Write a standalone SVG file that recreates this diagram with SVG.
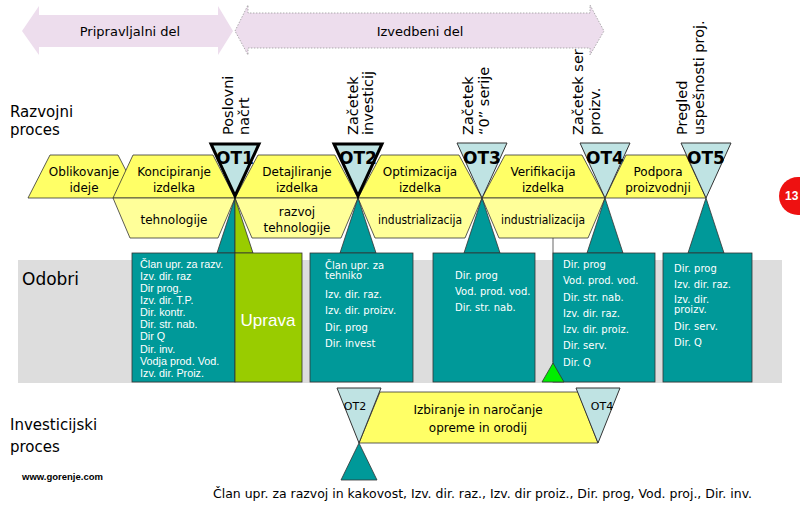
<svg xmlns="http://www.w3.org/2000/svg" width="800" height="506" viewBox="0 0 800 506">
<style>
.lbl{font-family:"DejaVu Sans",Verdana,sans-serif;fill:#000}
.rot{font-family:"DejaVu Sans",Verdana,sans-serif;font-size:14.5px;fill:#000}
.hx{font-family:"DejaVu Sans",Verdana,sans-serif;font-size:12px;fill:#000;text-anchor:middle}
.hexT{fill:#FFFF66;stroke:#333;stroke-width:0.8}
.hexB{fill:#FFFF99;stroke:#333;stroke-width:0.8}
.ot{fill:#BFE3E3;stroke:#333;stroke-width:1}
.otk{fill:#BFE3E3;stroke:#000;stroke-width:3;stroke-linejoin:miter}
.otl{font-family:"DejaVu Sans",Verdana,sans-serif;font-weight:bold;font-size:17px;fill:#000;text-anchor:middle}
.teal{fill:#009999;stroke:#333;stroke-width:0.8}
.grn{fill:#99CC00;stroke:#333;stroke-width:0.8}
.bx{font-family:"DejaVu Sans",Verdana,sans-serif;font-size:10px;fill:#fff}
.bx1{font-family:"Liberation Sans",Arial,sans-serif;font-size:10.8px;fill:#fff}
</style>
<defs>
<marker id="ah" markerWidth="8" markerHeight="8" refX="4" refY="6" orient="auto" markerUnits="userSpaceOnUse">
<path d="M0,0 L8,0 L4,7 Z" fill="#808080"/>
</marker>
</defs>
<rect width="800" height="506" fill="#fff"/>

<!-- gray band -->
<rect x="18" y="260" width="764" height="123" fill="#DDDDDD"/>

<!-- rotated labels -->
<g id="labels-top">
<text class="rot" transform="translate(233,135) rotate(-90)"><tspan x="0" y="0">Poslovni</tspan><tspan x="0" y="16">načrt</tspan></text>
<text class="rot" transform="translate(358,135) rotate(-90)"><tspan x="0" y="0">Začetek</tspan><tspan x="0" y="15">investicij</tspan></text>
<text class="rot" transform="translate(473,135) rotate(-90)"><tspan x="0" y="0">Začetek</tspan><tspan x="0" y="16">“0” serije</tspan></text>
<text class="rot" transform="translate(583,135) rotate(-90)"><tspan x="0" y="0">Začetek serij</tspan><tspan x="0" y="17">proizv.</tspan></text>
<text class="rot" transform="translate(687,135) rotate(-90)"><tspan x="0" y="0">Pregled</tspan><tspan x="0" y="17">uspešnosti proj.</tspan></text>
</g>

<!-- top arrows -->
<g id="arrow-priprav">
<polygon points="22,31 39,6 39,15 218,15 218,6 233,31 218,55 218,47 39,47 39,55" fill="#EDDDED"/>
<text class="lbl" x="130" y="36" font-size="13" text-anchor="middle" font-family="Liberation Sans,Arial,sans-serif">Pripravljalni del</text>
</g>
<g id="arrow-izved">
<polygon points="235,31 248,5 248,13 590,13 590,5 604,31 590,55 590,48 248,48 248,55" fill="#EDDDED" stroke="#999" stroke-width="0.8" stroke-dasharray="1.5,1.5"/>
<text class="lbl" x="420" y="36" font-size="13" text-anchor="middle" font-family="Liberation Sans,Arial,sans-serif">Izvedbeni del</text>
</g>

<!-- left labels -->
<text class="lbl" x="10" y="117" font-size="15">Razvojni</text>
<text class="lbl" x="10" y="135" font-size="15">proces</text>
<text class="lbl" x="22" y="285" font-size="17">Odobri</text>
<text class="lbl" x="10" y="430" font-size="15">Investicijski</text>
<text class="lbl" x="10" y="452" font-size="15">proces</text>
<text x="22" y="480" font-family="Liberation Sans,Arial,sans-serif" font-size="9.5" font-weight="bold" fill="#000">www.gorenje.com</text>

<!-- connectors -->
<g id="connectors">
<line x1="553" y1="238" x2="553" y2="362" stroke="#808080" stroke-width="1.2" marker-end="url(#ah)"/>
</g>

<!-- phase hexagons -->
<g id="oblikovanje">
<polygon class="hexT" points="28,198 50,155 118,155 140,198"/>
<text class="hx"><tspan x="84" y="176">Oblikovanje</tspan><tspan x="84" y="192">ideje</tspan></text>
</g>
<g id="koncipiranje">
<polygon class="hexT" points="113,198 133,155 213,155 235,198"/>
<polygon class="hexB" points="113,198 235,198 218,238 130,238"/>
<text class="hx"><tspan x="174" y="176">Koncipiranje</tspan><tspan x="174" y="192">izdelka</tspan></text>
<text class="hx" x="174" y="224">tehnologije</text>
</g>
<g id="detajliranje">
<polygon class="hexT" points="235,198 258,155 335,155 358,198"/>
<polygon class="hexB" points="235,198 358,198 341,238 252,238"/>
<text class="hx"><tspan x="297" y="176">Detajliranje</tspan><tspan x="297" y="192">izdelka</tspan></text>
<text class="hx"><tspan x="297" y="216">razvoj</tspan><tspan x="297" y="232">tehnologije</tspan></text>
</g>
<g id="optimizacija">
<polygon class="hexT" points="358,198 381,155 459,155 482,198"/>
<polygon class="hexB" points="358,198 482,198 465,238 375,238"/>
<text class="hx"><tspan x="420" y="176">Optimizacija</tspan><tspan x="420" y="192">izdelka</tspan></text>
<text class="hx" x="420" y="224" textLength="84" lengthAdjust="spacingAndGlyphs">industrializacija</text>
</g>
<g id="verifikacija">
<polygon class="hexT" points="482,198 505,155 582,155 605,198"/>
<polygon class="hexB" points="482,198 605,198 588,238 499,238"/>
<text class="hx"><tspan x="543" y="176">Verifikacija</tspan><tspan x="543" y="192">izdelka</tspan></text>
<text class="hx" x="543" y="224" textLength="84" lengthAdjust="spacingAndGlyphs">industrializacija</text>
</g>
<g id="podpora">
<polygon class="hexT" points="605,198 626,155 686,155 706,198"/>
<text class="hx"><tspan x="658" y="176">Podpora</tspan><tspan x="658" y="192">proizvodnji</tspan></text>
</g>

<!-- approval boxes -->
<g id="odobri-ot1">
<polygon class="teal" points="235,198 217,253 235,253"/>
<polygon class="grn" points="235,198 235,253 253,253"/>
<rect class="teal" x="132" y="253" width="103" height="129"/>
<rect class="grn" x="235" y="253" width="67" height="129"/>
<text class="bx1"><tspan x="140" y="268">Član upr. za razv.</tspan><tspan x="140" y="280">Izv. dir. raz</tspan><tspan x="140" y="292">Dir prog.</tspan><tspan x="140" y="304">Izv. dir. T.P.</tspan><tspan x="140" y="316">Dir. kontr.</tspan><tspan x="140" y="328">Dir. str. nab.</tspan><tspan x="140" y="340">Dir Q</tspan><tspan x="140" y="353">Dir. inv.</tspan><tspan x="140" y="365">Vodja prod. Vod.</tspan><tspan x="140" y="377">Izv. dir. Proiz.</tspan></text>
<text x="268" y="326" font-family="Liberation Sans,Arial,sans-serif" font-size="17" fill="#fff" text-anchor="middle">Uprava</text>
</g>
<g id="odobri-ot2">
<polygon class="teal" points="358,198 340,253 376,253"/>
<rect class="teal" x="310" y="253" width="103" height="129"/>
<text class="bx"><tspan x="325" y="269">Član upr. za</tspan><tspan x="325" y="279">tehniko</tspan><tspan x="325" y="298">Izv. dir. raz.</tspan><tspan x="325" y="314">Izv. dir. proizv.</tspan><tspan x="325" y="331">Dir. prog</tspan><tspan x="325" y="347">Dir. invest</tspan></text>
</g>
<g id="odobri-ot3">
<polygon class="teal" points="482,198 464,253 500,253"/>
<rect class="teal" x="433" y="253" width="102" height="129"/>
<text class="bx"><tspan x="455" y="279">Dir. prog</tspan><tspan x="455" y="295">Vod. prod. vod.</tspan><tspan x="455" y="311">Dir. str. nab.</tspan></text>
</g>
<g id="odobri-ot4">
<polygon class="teal" points="605,198 587,253 623,253"/>
<rect class="teal" x="553" y="253" width="102" height="129"/>
<text class="bx"><tspan x="563" y="268">Dir. prog</tspan><tspan x="563" y="284">Vod. prod. vod.</tspan><tspan x="563" y="301">Dir. str. nab.</tspan><tspan x="563" y="317">Izv. dir. raz.</tspan><tspan x="563" y="333">Izv. dir. proiz.</tspan><tspan x="563" y="349">Dir. serv.</tspan><tspan x="563" y="366">Dir. Q</tspan></text>
<polygon points="542,382 553,363 564,382" fill="#00EE00" stroke="#333" stroke-width="0.8"/>
</g>
<g id="odobri-ot5">
<polygon class="teal" points="706,198 688,253 724,253"/>
<rect class="teal" x="663" y="253" width="89" height="129"/>
<text class="bx"><tspan x="674" y="272">Dir. prog</tspan><tspan x="674" y="288">Izv. dir. raz.</tspan><tspan x="674" y="303">Izv. dir.</tspan><tspan x="674" y="313">proizv.</tspan><tspan x="674" y="330">Dir. serv.</tspan><tspan x="674" y="346">Dir. Q</tspan></text>
</g>

<!-- OT triangles -->
<g id="ot1"><polygon class="otk" points="211,144 259,144 235,196"/><text class="otl" x="235" y="164">OT1</text></g>
<g id="ot2"><polygon class="otk" points="334,144 382,144 358,196"/><text class="otl" x="358" y="164">OT2</text></g>
<g id="ot3"><polygon class="ot" points="457,143 507,143 482,198"/><text class="otl" x="482" y="164">OT3</text></g>
<g id="ot4"><polygon class="ot" points="580,143 630,143 605,198"/><text class="otl" x="605" y="164">OT4</text></g>
<g id="ot5"><polygon class="ot" points="681,143 731,143 706,198"/><text class="otl" x="706" y="164">OT5</text></g>

<!-- investment process -->
<g id="izbiranje">
<polygon class="hexT" points="359,443 380,392 578,392 598,443"/>
<text class="hx" font-size="12.5"><tspan x="478" y="414">Izbiranje in naročanje</tspan><tspan x="478" y="432">opreme in orodij</tspan></text>
</g>
<g id="inv-ot2">
<polygon class="ot" points="337,388 381,388 359,443"/>
<polygon class="teal" points="359,443 341,480 377,480"/>
<text class="lbl" x="355" y="410" font-size="11" text-anchor="middle">OT2</text>
</g>
<g id="inv-ot4">
<polygon class="ot" points="576,388 620,388 598,443"/>
<text class="lbl" x="602" y="410" font-size="11" text-anchor="middle">OT4</text>
</g>
<text class="lbl" x="213" y="498" font-size="12" textLength="539" lengthAdjust="spacingAndGlyphs">Član upr. za razvoj in kakovost, Izv. dir. raz., Izv. dir proiz., Dir. prog, Vod. proj., Dir. inv.</text>

<!-- page number -->
<g id="page-num">
<circle cx="798" cy="196" r="19" fill="#EE1111"/>
<text x="785" y="200" font-family="Liberation Sans,Arial,sans-serif" font-size="12" font-weight="bold" fill="#fff">13</text>
</g>
</svg>
